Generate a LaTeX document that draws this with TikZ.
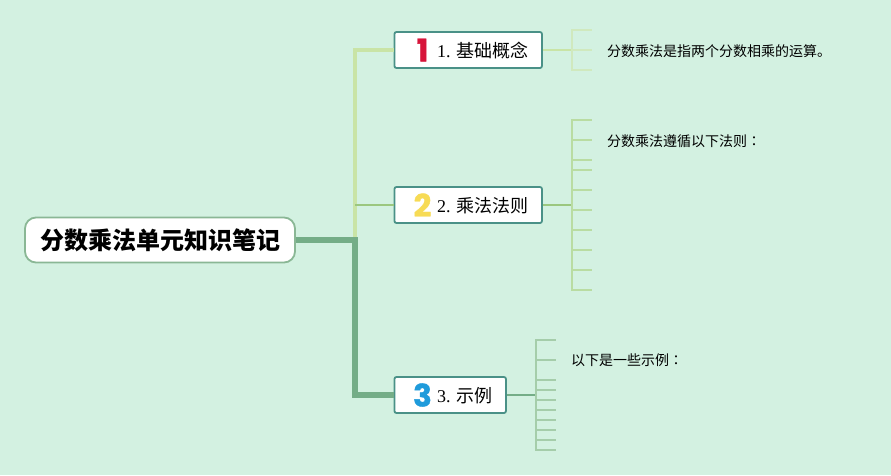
\documentclass[tikz,border=0pt]{standalone}
\usepackage{fontspec}
\setmainfont{Liberation Serif}
\newfontfamily\cjk{Noto Sans CJK SC}
\newfontfamily\cjktc{Noto Sans CJK TC}
\newfontfamily\digit{Poppins Bold}[FakeBold=1.2]
\definecolor{bgc}{HTML}{D3F1E1}
\definecolor{trunk}{HTML}{74AD87}
\definecolor{branchA}{HTML}{C9E4A6}
\definecolor{branchB}{HTML}{9BC77F}
\definecolor{leafA}{HTML}{D0E9BE}
\definecolor{leafB}{HTML}{B9DCA2}
\definecolor{leafC}{HTML}{A5CDAA}
\definecolor{edgeT}{HTML}{4A9187}
\definecolor{edgeR}{HTML}{8AB795}
\definecolor{iconA}{HTML}{D7143A}
\definecolor{iconB}{HTML}{F7DB55}
\definecolor{iconC}{HTML}{1F9BDB}
\tikzset{
  x=1pt,y=-1pt,
  rootbox/.style={draw=edgeR,line width=1.8pt,fill=white,rounded corners=11pt,minimum width=270pt,minimum height=45pt,inner sep=0pt,font=\cjk\bfseries\fontsize{24}{28}\selectfont},
  topicbox/.style={draw=edgeT,line width=1.8pt,fill=white,rounded corners=2pt,minimum height=36pt,inner sep=0pt},
  toptext/.style={anchor=west,inner sep=0pt,font=\fontsize{18}{22}\selectfont},
  leaftext/.style={anchor=west,inner sep=0pt,font=\cjk\fontsize{14}{18}\selectfont},
  icon/.style={inner sep=0pt,font=\digit\fontsize{31}{34}\selectfont},
  fine/.style={line width=1.7pt},
}
\begin{document}
\begin{tikzpicture}
\useasboundingbox[fill=bgc] (0,0) rectangle (891,475);
\coordinate (fork) at (355,240);
\coordinate (up) at (355,50);
\coordinate (mid) at (355,205);
\coordinate (low) at (355,395);
\coordinate (b1) at (572,50);
\coordinate (b2) at (572,205);
\coordinate (b3) at (536,395);
\node[rootbox] (root) at (160,240) {\raisebox{-1pt}{分数乘法单元知识笔记}};
\node[topicbox,minimum width=147.5pt] (t1) at (468.2,50) {};
\node[topicbox,minimum width=147.5pt] (t2) at (468.2,205) {};
\node[topicbox,minimum width=111.5pt] (t3) at (450.2,395) {};
\node[icon,text=iconA] (i1) at (422.5,50) {1};
\node[icon,text=iconB] (i2) at (422.5,205) {2};
\node[icon,text=iconC] (i3) at (422.5,395) {3};
\node[toptext] (l1) at (437,50.8) {1. {\cjk\hspace{-0.6pt}基础概念}};
\node[toptext] (l2) at (437,205.8) {2. {\cjk\hspace{-0.6pt}乘法法则}};
\node[toptext] (l3) at (437,395.8) {3. {\cjk\hspace{-0.6pt}示例}};
\node[leaftext] (x1) at (607,50.7) {分数乘法是指两个分数相乘的运算。};
\node[leaftext] (x2) at (607,140.7) {分数乘法遵循以下法则{\cjktc ：}};
\node[leaftext] (x3) at (571,360.7) {以下是一些示例{\cjktc ：}};
% branches
\draw[branchA,line width=3.3pt] (fork) -- (up) -- (t1.west);
\draw[branchB,line width=1.5pt] (mid) -- (t2.west);
\draw[trunk,line width=6pt] (root.east) -- (fork) -- (low) -- (t3.west);
% leaves 1
\draw[branchA,fine] (t1.east) -- (b1);
\draw[leafA,fine] (572,30) -- (572,70);
\foreach \y in {30,50,70} \draw[leafA,fine] (571.2,\y) -- (592,\y);
% leaves 2
\draw[branchB,fine] (t2.east) -- (b2);
\draw[leafB,fine] (572,120) -- (572,290);
\foreach \y in {120,140,160,170,190,210,230,250,270,290} \draw[leafB,fine] (571.2,\y) -- (592,\y);
% leaves 3
\draw[trunk,fine] (t3.east) -- (b3);
\draw[leafC,fine] (536,340) -- (536,450);
\foreach \y in {340,360,380,390,400,410,420,430,440,450} \draw[leafC,fine] (535.2,\y) -- (556,\y);
\end{tikzpicture}
\end{document}
